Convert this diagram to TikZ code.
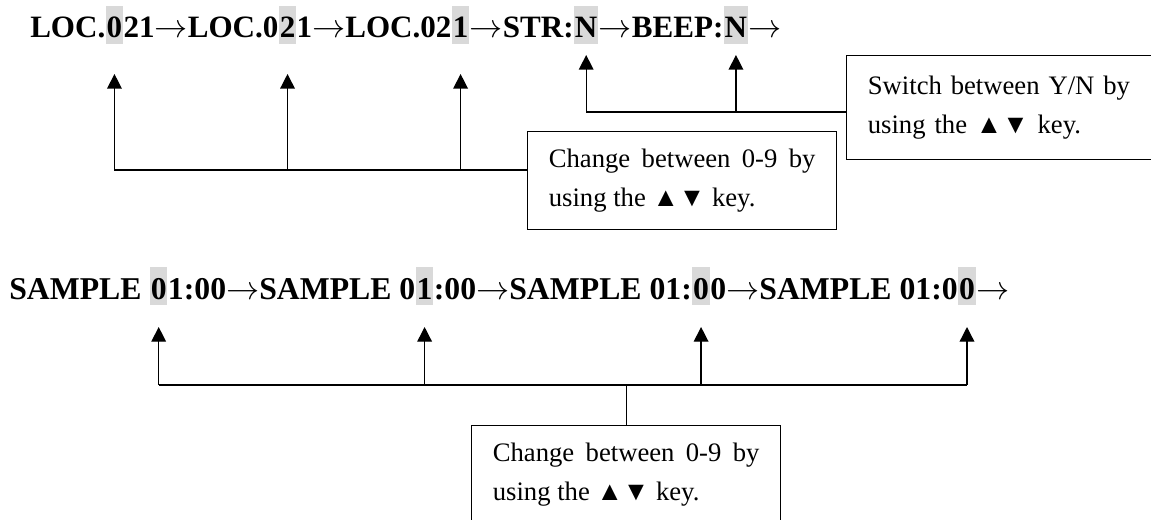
\documentclass[tikz,border=0pt]{standalone}
\usepackage{fontspec}
\setmainfont{Liberation Serif}
\usetikzlibrary{positioning,arrows.meta}

\definecolor{hlgray}{RGB}{217,217,217}
\newcommand{\rowfont}{\fontsize{23.3pt}{28pt}\selectfont\bfseries}
\newcommand{\rowfontb}{\fontsize{23.8pt}{28pt}\selectfont\bfseries}
\newcommand{\notefont}{\fontsize{20pt}{29.25pt}\selectfont}
\newcommand{\nxt}{\ensuremath{\rightarrow}}

\tikzstyle{seg}=[inner sep=0pt,font=\rowfont]
\tikzstyle{segb}=[seg,font=\rowfontb]
\tikzstyle{hl}=[seg,fill=hlgray,inner xsep=0.6pt,text height=24pt,text depth=4.5pt]
\tikzstyle{hlb}=[hl,font=\rowfontb]
\tikzstyle{note}=[draw=black,line width=1pt,inner xsep=15.8pt,text width=200pt,minimum width=231.75pt,minimum height=73.5pt,font=\notefont,anchor=north west]
\tikzstyle{wire}=[line width=1pt]
\tikzstyle{pointer}=[wire,-{Triangle[length=11pt,width=11pt]}]

\begin{document}
\begin{tikzpicture}[x=0.75pt,y=-0.75pt]

   \useasboundingbox (0,0) rectangle (1151,520);

   % Location and switches line

   \node[seg,anchor=base west] (r1a) at (30,38) {LOC.};
   \node[hl,base right=0pt of r1a] (h1) {0};
   \node[seg,base right=0pt of h1] (r1b) {21\nxt LOC.0};
   \node[hl,base right=0pt of r1b] (h2) {2};
   \node[seg,base right=0pt of h2] (r1c) {1\nxt LOC.02};
   \node[hl,base right=0pt of r1c] (h3) {1};
   \node[seg,base right=0pt of h3] (r1d) {\nxt STR:};
   \node[hl,base right=0pt of r1d] (h4) {N};
   \node[seg,base right=0pt of h4] (r1e) {\nxt BEEP:};
   \node[hl,base right=0pt of r1e] (h5) {N};
   \node[seg,base right=0pt of h5] (r1f) {\nxt};

   % Sample time line

   \node[segb,anchor=base west] (r2a) at (9,299) {SAMPLE\ \null};
   \node[hlb,base right=0pt of r2a] (h6) {0};
   \node[segb,base right=0pt of h6] (r2b) {1:00\nxt SAMPLE 0};
   \node[hlb,base right=0pt of r2b] (h7) {1};
   \node[segb,base right=0pt of h7] (r2c) {:00\nxt SAMPLE 01:};
   \node[hlb,base right=0pt of r2c] (h8) {0};
   \node[segb,base right=0pt of h8] (r2d) {0\nxt SAMPLE 01:0};
   \node[hlb,base right=0pt of r2d] (h9) {0};
   \node[segb,base right=0pt of h9] (r2e) {\nxt};

   % Notes

   \node[note,align=justify] (box1) at (527,131) {Change between 0-9 by using the ▲▼ key.};
   \node[note,align=left,minimum height=78pt] (box2) at (846,55) {Switch between Y/N by using the ▲▼ key.};
   \node[note,align=justify] (box3) at (471,425) {Change between 0-9 by using the ▲▼ key.};

   \coordinate (tipA) at (0,74);
   \coordinate (tipB) at (0,55);
   \coordinate (tipC) at (0,327);
   \coordinate (busA) at (0,170);
   \coordinate (busB) at (0,112);
   \coordinate (busC) at (0,385);

   % Pointers

   \draw[pointer] (box1.west |- busA) -| (h1 |- tipA);
   \draw[pointer] (h2 |- busA) -- (h2 |- tipA);
   \draw[pointer] (h3 |- busA) -- (h3 |- tipA);

   \draw[pointer] (box2.west |- busB) -| (h4 |- tipB);
   \draw[pointer] (h5 |- busB) -- (h5 |- tipB);

   \draw[wire] (h6 |- busC) -- (h9 |- busC);
   \foreach \n in {6,...,9}
      \draw[pointer] (h\n |- busC) -- (h\n |- tipC);
   \draw[wire] (box3.north) -- (box3.north |- busC);

\end{tikzpicture}
\end{document}
